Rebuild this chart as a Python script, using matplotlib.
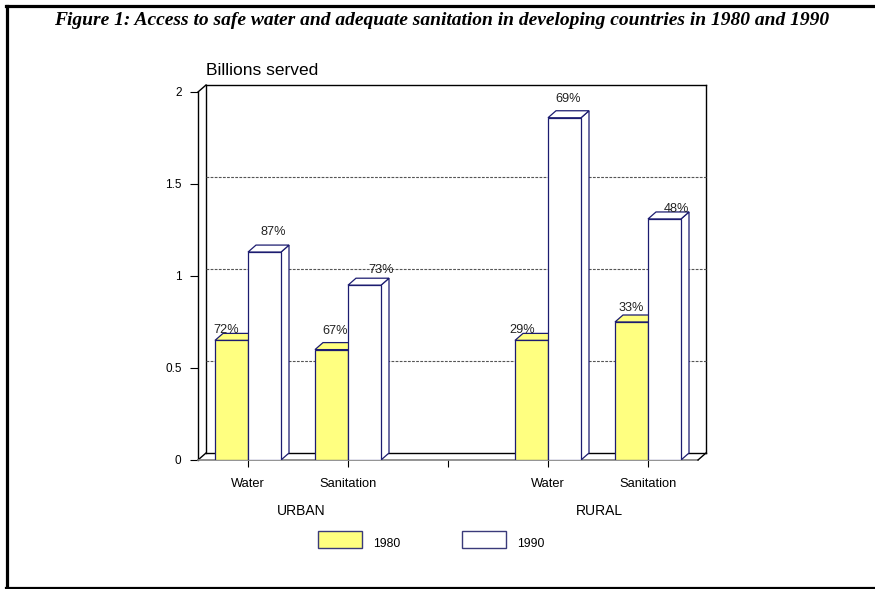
import numpy as np
import matplotlib.pyplot as plt
from matplotlib.patches import Rectangle, Polygon
from matplotlib.lines import Line2D

# billions of people served, by category
categories = ["Water", "Sanitation", "", "Water", "Sanitation"]
positions = [0, 1, 3, 4]
served_1980 = [0.65, 0.60, 0.65, 0.75]
served_1990 = [1.13, 0.95, 1.86, 1.31]
pct_1980 = ["72%", "67%", "29%", "33%"]
pct_1990 = ["87%", "73%", "69%", "48%"]
groups = ["URBAN", "RURAL"]
years = ["1980", "1990"]

W, H = 875, 589
fig = plt.figure(figsize=(W / 100, H / 100), dpi=100)
plt.rcParams['font.family'] = ['Liberation Sans', 'DejaVu Sans']

def fx(px):
    return px / W

def fy(py):
    return 1 - py / H

# axes box: x 198..698 px, y 92..460 px
ax = fig.add_axes([fx(198), fy(460), fx(698) - fx(198), fy(92) - fy(460)])
ax.set_xlim(-0.5, 4.5)
ax.set_ylim(0, 2)
for s in ax.spines.values():
    s.set_visible(False)

# depth offset of the pseudo-3d look
ddx = 8 / 100.0
ddy = 7 / 184.0
navy = '#1c1c70'
yellow = '#ffff80'

# back wall, side wall and floor
ax.plot([-0.5, -0.5], [0, 2], color='black', lw=1, clip_on=False)
ax.plot([-0.5 + ddx, -0.5 + ddx], [ddy, 2 + ddy], color='black', lw=1, clip_on=False)
ax.plot([-0.5, -0.5 + ddx], [2, 2 + ddy], color='black', lw=1, clip_on=False)
ax.plot([-0.5, -0.5 + ddx], [0, ddy], color='black', lw=1, clip_on=False)
ax.plot([-0.5 + ddx, 4.5 + ddx], [2 + ddy, 2 + ddy], color='black', lw=1, clip_on=False)
ax.plot([4.5 + ddx, 4.5 + ddx], [ddy, 2 + ddy], color='black', lw=1, clip_on=False)
ax.plot([-0.5 + ddx, 4.5 + ddx], [ddy, ddy], color='black', lw=1, clip_on=False)
ax.plot([-0.5, 4.5], [0, 0], color='#808080', lw=1.2, clip_on=False)
ax.plot([4.5, 4.5 + ddx], [0, ddy], color='black', lw=1, clip_on=False)
for v in [0.5, 1.0, 1.5]:
    ax.plot([-0.5 + ddx, 4.5 + ddx], [v + ddy, v + ddy], color='#555555',
            lw=0.8, ls=(0, (2.5, 1.2)), clip_on=False)

def bar3d(x0, w, h, color):
    x1 = x0 + w
    side = Polygon([(x1, 0), (x1 + ddx, ddy), (x1 + ddx, h + ddy), (x1, h)],
                   closed=True, facecolor=color, edgecolor=navy, lw=0.9, zorder=3)
    top = Polygon([(x0, h), (x1, h), (x1 + ddx, h + ddy), (x0 + ddx, h + ddy)],
                  closed=True, facecolor=color, edgecolor=navy, lw=0.9, zorder=3)
    ax.add_patch(side)
    ax.add_patch(top)
    ax.bar(x0, h, width=w, align='edge', color=color, edgecolor=navy, lw=0.9, zorder=4)

bw = 0.33
for p, a, b in zip(positions, served_1980, served_1990):
    bar3d(p - bw, bw, a, yellow)
    bar3d(p, bw, b, 'white')

# percentage labels (pixel nudges per bar)
nudge_1980 = [(-9, 0), (0, 9), (-13, 0), (-4, 4)]
nudge_1990 = [(5, 10), (13, 5), (0, 9), (8, 0)]
for p, a, b, la, lb, na, nb in zip(positions, served_1980, served_1990,
                                   pct_1980, pct_1990, nudge_1980, nudge_1990):
    ax.annotate(la, (p - bw / 2 + ddx / 2, a + ddy), xytext=na,
                textcoords='offset pixels', ha='center', va='baseline',
                fontsize=9.2, color='#222222', zorder=6, annotation_clip=False)
    ax.annotate(lb, (p + bw / 2 + ddx / 2, b + ddy), xytext=nb,
                textcoords='offset pixels', ha='center', va='baseline',
                fontsize=9.2, color='#222222', zorder=6, annotation_clip=False)

ax.set_yticks([0, 0.5, 1, 1.5, 2])
ax.set_yticklabels(['0', '0.5', '1', '1.5', '2'])
ax.set_xticks(range(len(categories)))
ax.set_xticklabels(categories)
ax.tick_params(axis='y', direction='out', length=5.8, width=0.8, pad=6, labelsize=8.5)
ax.tick_params(axis='x', direction='out', length=5, width=0.8, pad=8, labelsize=9.3)

# group names under the categories
fig.text(fx(301), fy(511), groups[0], ha='center', va='center', fontsize=10)
fig.text(fx(599), fy(511), groups[1], ha='center', va='center', fontsize=10)

fig.text(fx(206), fy(75), "Billions served", ha='left', va='baseline', fontsize=12.5)

fig.text(fx(442), fy(25),
         "Figure 1: Access to safe water and adequate sanitation in developing countries in 1980 and 1990",
         ha='center', va='baseline', fontsize=14, fontweight='bold', fontstyle='italic',
         family=['Liberation Serif', 'DejaVu Serif'])

# legend
for x0, fc, lab in [(318, yellow, years[0]), (462, 'white', years[1])]:
    fig.add_artist(Rectangle((fx(x0), fy(548)), fx(44), fy(531) - fy(548),
                             transform=fig.transFigure, facecolor=fc,
                             edgecolor='#3a3a7a', lw=1))
    fig.text(fx(x0 + 55), fy(544), lab, ha='left', va='center', fontsize=8.7)

# frame around the figure
fig.add_artist(Line2D([fx(6.5), fx(6.5)], [fy(6), fy(587.5)], color='black', lw=2.3))
fig.add_artist(Line2D([fx(5.5), 1], [fy(6), fy(6)], color='black', lw=2.3))
fig.add_artist(Line2D([fx(5.5), 1], [fy(587.5), fy(587.5)], color='black', lw=2.3))

fig.savefig("out.png", dpi=100)
